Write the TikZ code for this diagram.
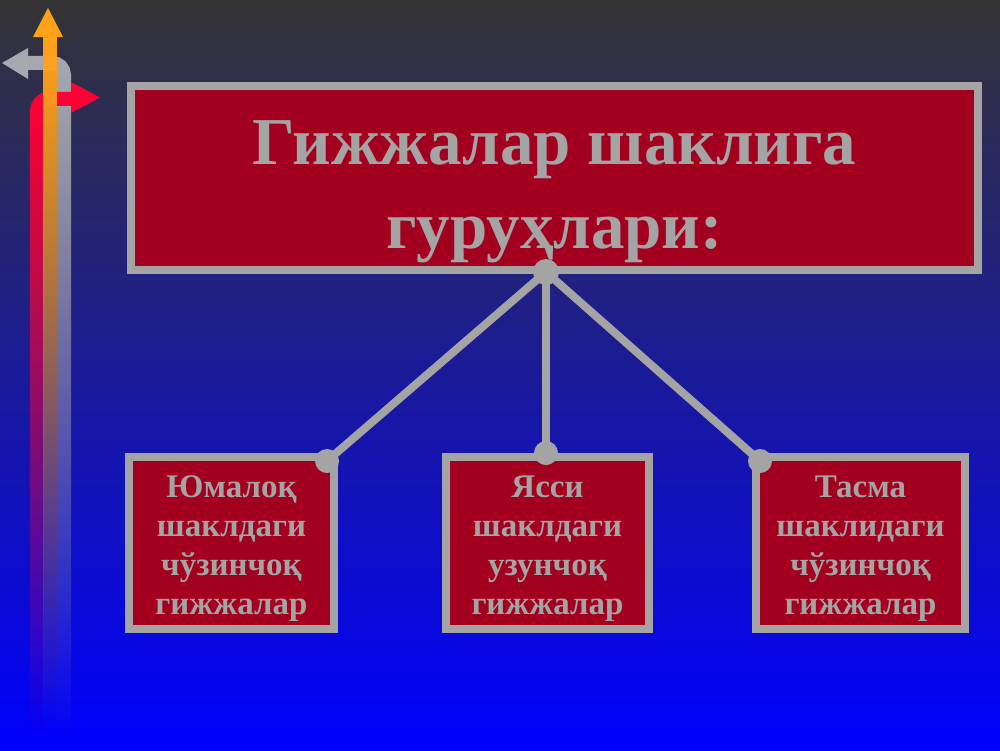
\documentclass[tikz,border=0pt]{standalone}
\usepackage{fontspec}
\setmainfont{Liberation Serif}
\usetikzlibrary{fadings}
\definecolor{bgtop}{HTML}{343434}
\definecolor{bgbot}{HTML}{0000FF}
\definecolor{lgray}{HTML}{A4A4A4}
\definecolor{boxred}{HTML}{A3001F}
\definecolor{arrred}{HTML}{FF0035}
\definecolor{arrgray}{HTML}{A8A8B0}
\definecolor{arrorange}{HTML}{FFA21A}
\tikzfading[name=fadedown, top color=transparent!0, middle color=transparent!30, bottom color=transparent!100]
\tikzset{
  box/.style={draw=lgray, line width=8pt, fill=boxred, inner sep=0pt},
  label/.style={text=lgray, align=center, inner sep=0pt},
  bigtext/.style={font=\bfseries\fontsize{67}{84}\selectfont},
  smalltext/.style={font=\bfseries\fontsize{33}{39}\selectfont},
  link/.style={draw=lgray, line width=8pt},
  dot/.style={fill=lgray},
  shaft/.style={line width=14pt, rounded corners=12pt, path fading=fadedown}
}
\begin{document}
\begin{tikzpicture}[x=1pt,y=-1pt]
\useasboundingbox (0,0) rectangle (1000,750);
\shade[top color=bgtop, bottom color=bgbot] (0,0) rectangle (1000,750);
% left decorative arrows
\draw[shaft, arrgray] (64,730) -- (64,63) -- (27,63);
\fill[arrgray] (28,48) -- (2,63) -- (28,79) -- cycle;
\draw[shaft, arrred] (37,730) -- (37,98) -- (72,98);
\fill[arrred] (71,82) -- (100,97.5) -- (71,113) -- cycle;
\fill[arrorange, path fading=fadedown] (43,36) rectangle (57,730);
\fill[arrorange] (33,37) -- (48,8) -- (63,37) -- cycle;
% boxes
\node[box, minimum width=847pt, minimum height=184pt] (title) at (554.5,178) {};
\node[label, bigtext] (titletext) at ([yshift=-14pt]title.center) {Гижжалар шаклига\\гуруҳлари:};
\node[box, minimum width=205pt, minimum height=172pt] (b1) at (231.5,543) {};
\node[box, minimum width=203pt, minimum height=172pt] (b2) at (547.5,543) {};
\node[box, minimum width=209pt, minimum height=172pt] (b3) at (860.5,543) {};
\node[label, smalltext] (t1) at ([yshift=-6pt]b1.center) {Юмалоқ\\шаклдаги\\чўзинчоқ\\гижжалар};
\node[label, smalltext] (t2) at ([yshift=-6pt]b2.center) {Ясси\\шаклдаги\\узунчоқ\\гижжалар};
\node[label, smalltext] (t3) at ([yshift=-6pt]b3.center) {Тасма\\шаклидаги\\чўзинчоқ\\гижжалар};
% connectors
\coordinate (hub) at (546,272);
\coordinate (d1) at (327,461);
\coordinate (d2) at (546,453);
\coordinate (d3) at (760,461);
\draw[link] (hub) -- (d1);
\draw[link] (hub) -- (d2);
\draw[link] (hub) -- (d3);
\fill[dot] (hub) circle (13pt);
\fill[dot] (d1) circle (12pt);
\fill[dot] (d2) circle (12pt);
\fill[dot] (d3) circle (12pt);
\end{tikzpicture}
\end{document}
